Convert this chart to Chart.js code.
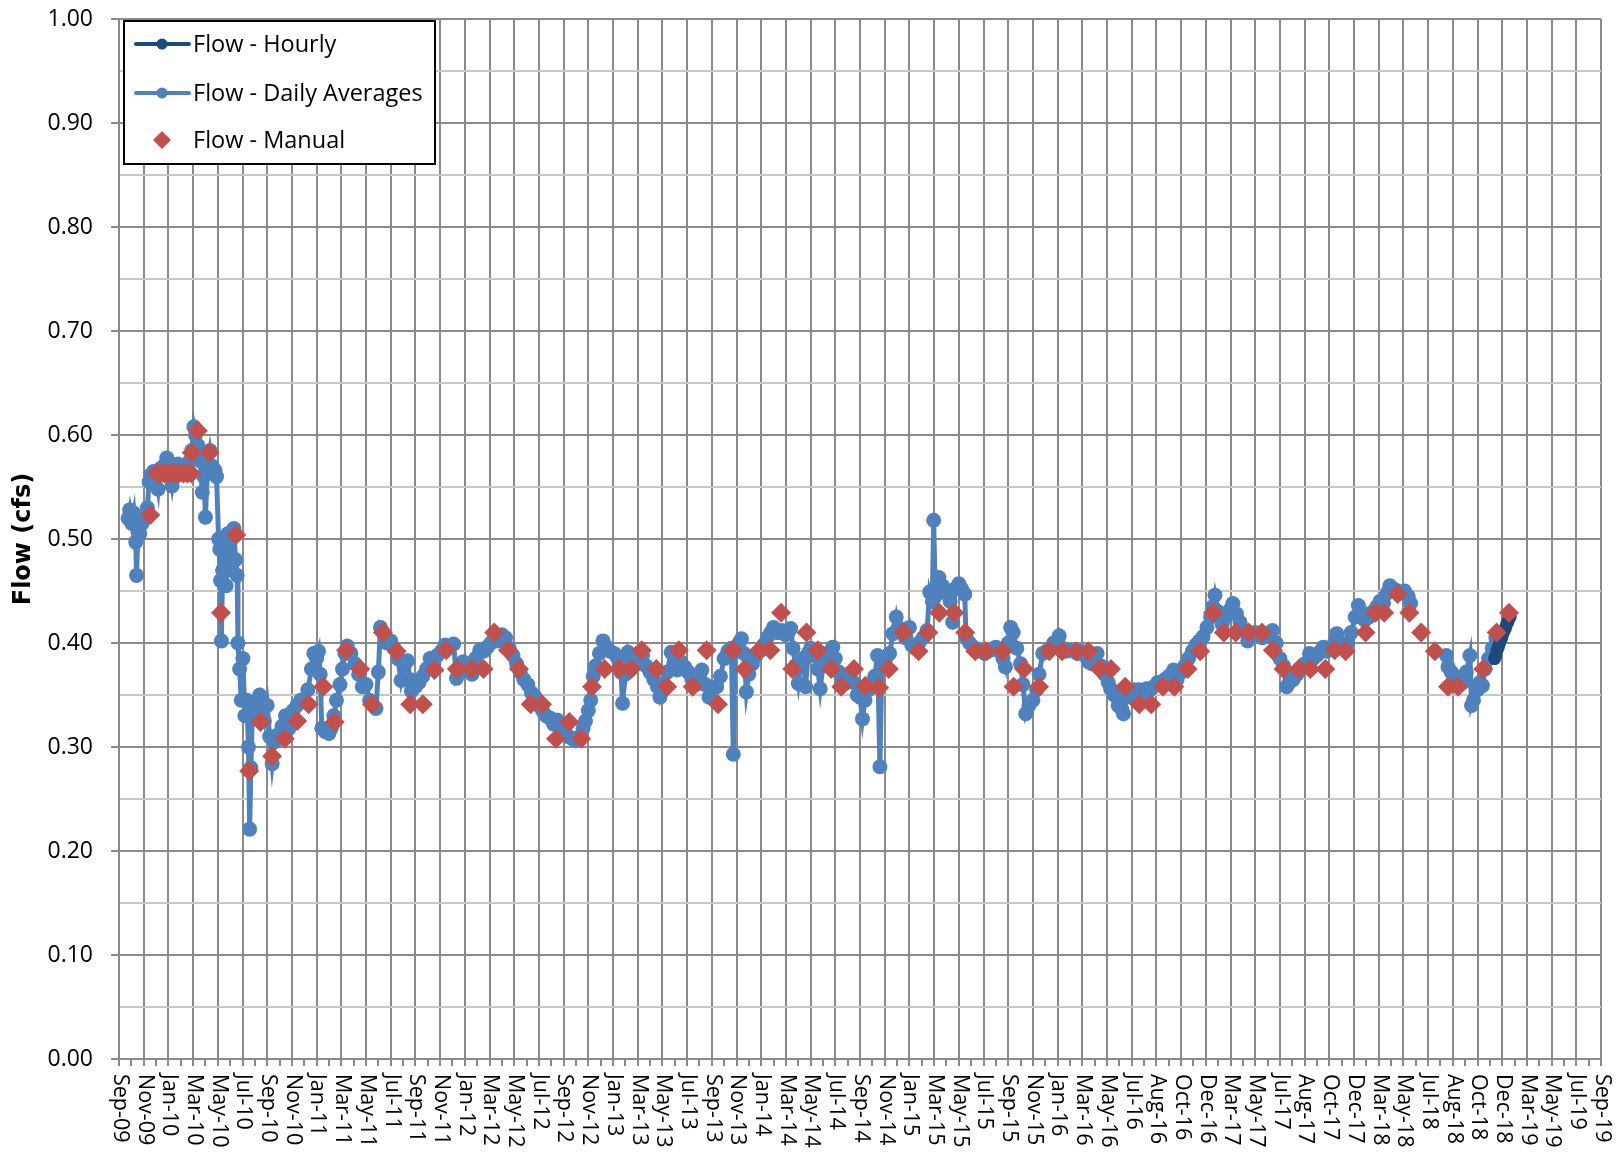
<!DOCTYPE html>
<html><head><meta charset="utf-8">
<script src="https://cdn.jsdelivr.net/npm/chart.js@4.4.1/dist/chart.umd.min.js"></script>
<style>html,body{margin:0;padding:0;background:#fff;}canvas{display:block;}</style>
</head><body>
<canvas id="c" width="1618" height="1159"></canvas>
<script>
// ---------- DATA ----------
const tickLabels = ['Sep-09','Nov-09','Jan-10','Mar-10','May-10','Jul-10','Sep-10','Nov-10','Jan-11','Mar-11','May-11','Jul-11','Sep-11','Nov-11','Jan-12','Mar-12','May-12','Jul-12','Sep-12','Nov-12','Jan-13','Mar-13','May-13','Jul-13','Sep-13','Nov-13','Jan-14','Mar-14','May-14','Jul-14','Sep-14','Nov-14','Jan-15','Mar-15','May-15','Jul-15','Sep-15','Nov-15','Jan-16','Mar-16','May-16','Jul-16','Aug-16','Oct-16','Dec-16','Mar-17','May-17','Jul-17','Aug-17','Oct-17','Dec-17','Mar-18','May-18','Jul-18','Aug-18','Oct-18','Dec-18','Mar-19','May-19','Jul-19','Sep-19'];

const seriesNames = ['Flow - Hourly','Flow - Daily Averages','Flow - Manual'];

const dailyDates = [
'2009-09-23','2009-09-27','2009-10-02','2009-10-07','2009-10-12','2009-10-14','2009-10-18','2009-10-22','2009-10-28','2009-11-04','2009-11-10','2009-11-14','2009-11-19','2009-11-25','2009-12-01','2009-12-06','2009-12-10','2009-12-19','2009-12-28',
'2010-01-04','2010-01-10','2010-01-16','2010-01-25','2010-02-04','2010-02-12','2010-02-21','2010-02-26','2010-03-03','2010-03-07','2010-03-13','2010-03-19','2010-03-24','2010-03-28','2010-04-01','2010-04-06','2010-04-12','2010-04-18','2010-04-24','2010-04-28','2010-05-03','2010-05-06','2010-05-08','2010-05-10','2010-05-13','2010-05-18','2010-05-22','2010-05-26','2010-06-01','2010-06-06','2010-06-10','2010-06-14','2010-06-18','2010-06-20','2010-06-24','2010-06-28','2010-07-02','2010-07-07','2010-07-12','2010-07-16','2010-07-19','2010-07-22','2010-07-26','2010-08-01','2010-08-07','2010-08-13','2010-08-19','2010-08-25','2010-09-01','2010-09-07','2010-09-13','2010-09-19','2010-09-28','2010-10-07','2010-10-16','2010-10-25','2010-11-04','2010-11-13','2010-11-22','2010-12-01','2010-12-10','2010-12-19','2010-12-25',
'2011-01-01','2011-01-06','2011-01-10','2011-01-14','2011-01-22','2011-02-01','2011-02-06','2011-02-12','2011-02-18','2011-02-26','2011-03-04','2011-03-10','2011-03-16','2011-03-25','2011-04-04','2011-04-13','2011-04-22','2011-05-01','2011-05-10','2011-05-19','2011-05-26','2011-06-01','2011-06-06','2011-06-13','2011-06-22','2011-07-01','2011-07-10','2011-07-19','2011-07-27','2011-08-04','2011-08-12','2011-08-18','2011-08-22','2011-09-01','2011-09-10','2011-09-19','2011-09-28','2011-10-07','2011-10-16','2011-10-25','2011-11-04','2011-11-13','2011-11-22','2011-12-04','2011-12-11','2011-12-19','2011-12-28',
'2012-01-07','2012-01-19','2012-01-28','2012-02-07','2012-02-16','2012-02-25','2012-03-04','2012-03-13','2012-03-22','2012-04-01','2012-04-10','2012-04-19','2012-04-28','2012-05-07','2012-05-16','2012-05-25','2012-06-04','2012-06-13','2012-06-22','2012-07-01','2012-07-10','2012-07-19','2012-07-28','2012-08-07','2012-08-16','2012-08-25','2012-09-04','2012-09-13','2012-09-22','2012-10-01','2012-10-10','2012-10-19','2012-10-25','2012-11-01','2012-11-07','2012-11-13','2012-11-19','2012-11-28','2012-12-07','2012-12-16','2012-12-25',
'2013-01-04','2013-01-13','2013-01-21','2013-01-25','2013-02-01','2013-02-07','2013-02-15','2013-02-23','2013-03-04','2013-03-13','2013-03-22','2013-04-01','2013-04-10','2013-04-19','2013-04-25','2013-05-04','2013-05-13','2013-05-23','2013-06-01','2013-06-07','2013-06-16','2013-06-25','2013-07-04','2013-07-13','2013-07-22','2013-08-01','2013-08-07','2013-08-16','2013-08-25','2013-09-04','2013-09-13','2013-09-22','2013-10-01','2013-10-10','2013-10-19','2013-10-24','2013-10-28','2013-11-07','2013-11-13','2013-11-19','2013-11-25','2013-12-01','2013-12-10','2013-12-19','2013-12-28',
'2014-01-07','2014-01-16','2014-01-25','2014-02-01','2014-02-10','2014-02-19','2014-02-28','2014-03-07','2014-03-13','2014-03-19','2014-03-25','2014-04-01','2014-04-07','2014-04-13','2014-04-19','2014-04-25','2014-05-01','2014-05-10','2014-05-19','2014-05-25','2014-06-01','2014-06-10','2014-06-19','2014-06-25','2014-07-01','2014-07-10','2014-07-19','2014-07-28','2014-08-07','2014-08-16','2014-08-25','2014-09-01','2014-09-07','2014-09-13','2014-09-22','2014-10-01','2014-10-07','2014-10-14','2014-10-20','2014-10-25','2014-11-04','2014-11-13','2014-11-21','2014-11-29','2014-12-04','2014-12-13','2014-12-22',
'2015-01-01','2015-01-07','2015-01-16','2015-01-25','2015-02-04','2015-02-13','2015-02-19','2015-02-25','2015-02-28','2015-03-04','2015-03-13','2015-03-22','2015-04-01','2015-04-10','2015-04-16','2015-04-22','2015-05-01','2015-05-08','2015-05-16','2015-05-19','2015-05-28','2015-06-07','2015-06-16','2015-06-25','2015-07-04','2015-07-13','2015-07-22','2015-08-01','2015-08-10','2015-08-19','2015-08-25','2015-09-01','2015-09-07','2015-09-13','2015-09-22','2015-10-01','2015-10-07','2015-10-14','2015-10-22','2015-11-01','2015-11-10','2015-11-16','2015-11-25','2015-12-04','2015-12-13','2015-12-22',
'2016-01-01','2016-01-05','2016-01-13','2016-01-22','2016-02-01','2016-02-10','2016-02-19','2016-02-27','2016-03-07','2016-03-16','2016-03-25','2016-04-07','2016-04-16','2016-04-25','2016-05-04','2016-05-10','2016-05-19','2016-05-29','2016-06-07','2016-06-11','2016-06-19','2016-06-28','2016-07-07','2016-07-19','2016-07-28','2016-08-07','2016-08-16','2016-08-25','2016-09-04','2016-09-13','2016-09-22','2016-10-01','2016-10-13','2016-10-22','2016-11-01','2016-11-10','2016-11-19','2016-11-28','2016-12-07','2016-12-16','2016-12-25',
'2017-01-04','2017-01-13','2017-01-19','2017-01-24','2017-02-01','2017-02-10','2017-02-19','2017-02-28','2017-03-07','2017-03-16','2017-03-25','2017-04-04','2017-04-13','2017-04-22','2017-05-01','2017-05-10','2017-05-19','2017-05-28','2017-06-07','2017-06-13','2017-06-22','2017-07-01','2017-07-10','2017-07-18','2017-07-25','2017-08-04','2017-08-13','2017-08-22','2017-09-01','2017-09-13','2017-09-22','2017-10-01','2017-10-10','2017-10-17','2017-10-25','2017-11-04','2017-11-13','2017-11-19','2017-11-28','2017-12-07','2017-12-16','2017-12-25',
'2018-01-04','2018-01-12','2018-01-19','2018-01-28','2018-02-07','2018-02-16','2018-02-25','2018-03-04','2018-03-13','2018-03-22','2018-03-29','2018-04-07','2018-04-16','2018-04-25','2018-05-04','2018-05-13','2018-05-19','2018-07-01','2018-08-16','2018-08-20','2018-08-28','2018-09-07','2018-09-16','2018-09-25','2018-10-04','2018-10-13','2018-10-17','2018-10-22','2018-11-01','2018-11-07','2018-11-13','2018-11-19','2018-11-28','2018-12-07','2018-12-16','2018-12-22'
];
const dailyFlow = [
0.520,0.528,0.515,0.525,0.497,0.465,0.510,0.505,0.515,0.520,0.530,0.555,0.562,0.565,0.560,0.548,0.567,0.570,0.578,
0.565,0.551,0.568,0.572,0.566,0.570,0.575,0.585,0.608,0.600,0.590,0.575,0.545,0.560,0.521,0.570,0.585,0.570,0.566,0.560,0.500,0.490,0.460,0.402,0.470,0.495,0.455,0.505,0.485,0.470,0.510,0.480,0.465,0.400,0.375,0.345,0.385,0.330,0.345,0.300,0.221,0.280,0.335,0.340,0.345,0.350,0.335,0.325,0.340,0.310,0.284,0.305,0.312,0.320,0.330,0.318,0.335,0.340,0.345,0.345,0.355,0.375,0.390,
0.385,0.392,0.370,0.318,0.315,0.313,0.318,0.330,0.345,0.360,0.375,0.390,0.397,0.390,0.380,0.370,0.358,0.360,0.345,0.340,0.337,0.372,0.415,0.410,0.400,0.402,0.395,0.385,0.364,0.378,0.383,0.365,0.354,0.358,0.362,0.368,0.375,0.385,0.380,0.388,0.392,0.398,0.396,0.399,0.366,0.372,0.382,
0.378,0.370,0.385,0.393,0.392,0.396,0.400,0.405,0.402,0.408,0.405,0.395,0.388,0.380,0.372,0.365,0.360,0.352,0.348,0.340,0.335,0.330,0.328,0.322,0.326,0.318,0.315,0.310,0.308,0.306,0.310,0.318,0.325,0.335,0.345,0.368,0.378,0.390,0.402,0.396,0.392,
0.390,0.385,0.372,0.342,0.370,0.391,0.380,0.385,0.390,0.388,0.378,0.372,0.365,0.358,0.348,0.360,0.372,0.391,0.385,0.374,0.382,0.377,0.372,0.365,0.360,0.368,0.374,0.360,0.348,0.356,0.358,0.368,0.385,0.392,0.395,0.293,0.395,0.400,0.404,0.390,0.353,0.370,0.380,0.388,0.392,
0.398,0.405,0.410,0.415,0.410,0.412,0.408,0.410,0.414,0.395,0.378,0.361,0.380,0.385,0.358,0.390,0.395,0.388,0.375,0.356,0.378,0.385,0.392,0.396,0.385,0.372,0.365,0.362,0.370,0.362,0.350,0.348,0.327,0.345,0.355,0.360,0.368,0.388,0.281,0.380,0.385,0.390,0.409,0.425,0.415,0.412,0.405,
0.415,0.398,0.395,0.400,0.405,0.412,0.449,0.440,0.518,0.445,0.463,0.455,0.448,0.440,0.420,0.452,0.457,0.452,0.447,0.406,0.400,0.396,0.393,0.392,0.390,0.392,0.394,0.396,0.392,0.385,0.377,0.400,0.415,0.410,0.395,0.380,0.360,0.332,0.340,0.345,0.355,0.370,0.390,0.392,0.395,0.400,
0.402,0.407,0.395,0.392,0.393,0.392,0.390,0.392,0.388,0.382,0.380,0.390,0.378,0.370,0.362,0.356,0.350,0.340,0.336,0.332,0.348,0.352,0.355,0.355,0.352,0.356,0.355,0.358,0.362,0.362,0.365,0.368,0.374,0.365,0.372,0.378,0.385,0.392,0.398,0.402,0.406,
0.415,0.425,0.435,0.446,0.430,0.418,0.425,0.432,0.438,0.428,0.420,0.412,0.402,0.408,0.410,0.408,0.405,0.408,0.410,0.412,0.400,0.385,0.378,0.358,0.362,0.365,0.370,0.375,0.380,0.390,0.385,0.388,0.392,0.396,0.392,0.395,0.400,0.409,0.400,0.395,0.400,0.410,
0.425,0.436,0.430,0.422,0.425,0.430,0.435,0.440,0.438,0.448,0.455,0.452,0.450,0.448,0.450,0.445,0.438,null,0.388,0.377,0.372,0.368,0.365,0.362,0.372,0.388,0.340,0.345,0.355,0.362,0.359,0.375,0.385,0.395,0.405,0.410
];

const hourlyDates = ['2018-12-13','2018-12-16','2018-12-19','2018-12-22','2018-12-25','2018-12-28','2018-12-31','2019-01-03','2019-01-06','2019-01-09','2019-01-12','2019-01-15','2019-01-18','2019-01-21'];
const hourlyFlow  = [0.385,0.388,0.393,0.396,0.399,0.403,0.405,0.409,0.412,0.414,0.418,0.420,0.423,0.425];

const manualDates = [
'2009-11-17','2009-12-04','2009-12-13','2009-12-22','2010-01-01','2010-01-10','2010-01-19','2010-01-28','2010-02-07','2010-02-16','2010-02-25','2010-02-26','2010-03-13','2010-04-11','2010-05-09','2010-06-16','2010-07-18','2010-08-15','2010-09-13','2010-10-14','2010-11-14','2010-12-12',
'2011-01-18','2011-02-14','2011-03-13','2011-04-17','2011-05-16','2011-06-12','2011-07-16','2011-08-19','2011-09-19','2011-10-18','2011-11-16','2011-12-12',
'2012-01-17','2012-02-16','2012-03-13','2012-04-16','2012-05-13','2012-06-11','2012-07-09','2012-08-13','2012-09-15','2012-10-14','2012-11-10','2012-12-11',
'2013-01-17','2013-02-15','2013-03-11','2013-04-16','2013-05-13','2013-06-11','2013-07-15','2013-08-19','2013-09-16','2013-10-23','2013-11-21','2013-12-27',
'2014-01-24','2014-02-18','2014-03-17','2014-04-21','2014-05-19','2014-06-21','2014-07-16','2014-08-17','2014-09-14','2014-10-18','2014-11-11','2014-12-16',
'2015-01-24','2015-02-16','2015-03-14','2015-04-20','2015-05-17','2015-06-11','2015-07-07','2015-08-18','2015-09-14','2015-10-10','2015-11-16','2015-12-11',
'2016-01-12','2016-02-16','2016-03-16','2016-04-13','2016-05-11','2016-06-15','2016-07-20','2016-08-19','2016-09-17','2016-10-15','2016-11-17','2016-12-18',
'2017-01-19','2017-02-14','2017-03-14','2017-04-15','2017-05-18','2017-06-14','2017-07-10','2017-08-17','2017-09-15','2017-10-22','2017-11-14','2017-12-11',
'2018-01-30','2018-02-22','2018-03-15','2018-04-17','2018-05-16','2018-06-14','2018-07-18','2018-08-20','2018-09-14','2018-11-15','2018-12-18','2019-01-18'
];
const manualFlow = [
0.523,0.563,0.563,0.563,0.563,0.563,0.563,0.563,0.563,0.563,0.563,0.583,0.604,0.583,0.429,0.504,0.277,0.324,0.291,0.308,0.325,0.341,
0.358,0.324,0.393,0.375,0.341,0.410,0.392,0.341,0.341,0.374,0.393,0.375,
0.375,0.375,0.410,0.393,0.375,0.341,0.341,0.308,0.324,0.308,0.358,0.375,
0.375,0.375,0.393,0.375,0.358,0.393,0.358,0.393,0.341,0.393,0.375,0.393,
0.393,0.429,0.375,0.410,0.393,0.375,0.358,0.375,0.359,0.357,0.375,0.410,
0.392,0.410,0.429,0.429,0.410,0.392,0.392,0.392,0.358,0.375,0.358,0.392,
0.392,0.392,0.392,0.375,0.375,0.358,0.341,0.341,0.358,0.358,0.375,0.392,
0.429,0.410,0.410,0.410,0.410,0.393,0.375,0.375,0.375,0.375,0.393,0.392,
0.410,0.429,0.429,0.447,0.429,0.410,0.392,0.358,0.358,0.375,0.410,0.429
];

// ---------- HELPERS ----------
// position on the time axis, in months since 1 Sep 2009
function toMonths(s) {
  const p = s.split('-').map(Number);
  const dim = new Date(Date.UTC(p[0], p[1], 0)).getUTCDate();
  return (p[0] - 2009) * 12 + (p[1] - 9) + (p[2] - 1) / dim;
}
function pts(dates, vals) { return dates.map((d, i) => ({ x: toMonths(d), y: vals[i] })); }

const COL_HOURLY = '#1F497D', COL_DAILY = '#4F81BD', COL_MANUAL = '#C0504D';
const GRID_MAJOR = '#8a8a8a', GRID_MINOR = '#c8c8c8';
const isMajorY = v => Math.round(v * 100) % 10 === 0;

// x tick labels drawn top-to-bottom (Excel style) + legend box
const decor = {
  id: 'decor',
  afterDraw(chart) {
    const ctx = chart.ctx, xs = chart.scales.x, area = chart.chartArea;
    ctx.save();
    ctx.fillStyle = '#000';
    ctx.font = '21.5px "Open Sans"';
    ctx.textAlign = 'left';
    ctx.textBaseline = 'middle';
    tickLabels.forEach((lab, i) => {
      const x = xs.getPixelForValue(i * 2);
      ctx.save();
      ctx.translate(x + 1, area.bottom + 15);
      ctx.rotate(Math.PI / 2);
      ctx.fillText(lab, 0, 0);
      ctx.restore();
    });
    // legend
    const lx = 124, ly = 21, lw = 311, lh = 143;
    ctx.fillStyle = '#fff';
    ctx.fillRect(lx, ly, lw, lh);
    ctx.strokeStyle = '#000';
    ctx.lineWidth = 2;
    ctx.strokeRect(lx, ly, lw, lh);
    const rows = [
      { name: seriesNames[0], color: COL_HOURLY, kind: 'line', y: 44 },
      { name: seriesNames[1], color: COL_DAILY, kind: 'line', y: 93 },
      { name: seriesNames[2], color: COL_MANUAL, kind: 'diamond', y: 140 }
    ];
    rows.forEach(r => {
      ctx.fillStyle = r.color;
      ctx.strokeStyle = r.color;
      if (r.kind === 'line') {
        ctx.lineWidth = 4;
        ctx.lineCap = 'round';
        ctx.beginPath(); ctx.moveTo(136, r.y); ctx.lineTo(189, r.y); ctx.stroke();
        ctx.beginPath(); ctx.arc(162, r.y, 5.5, 0, Math.PI * 2); ctx.fill();
      } else {
        ctx.beginPath();
        ctx.moveTo(162, r.y - 9); ctx.lineTo(171, r.y); ctx.lineTo(162, r.y + 9); ctx.lineTo(153, r.y);
        ctx.closePath(); ctx.fill();
      }
      ctx.fillStyle = '#000';
      ctx.font = '23.5px "Open Sans"';
      ctx.textBaseline = 'middle';
      ctx.fillText(r.name, 193, r.y + 1);
    });
    ctx.restore();
  }
};

Chart.defaults.font.family = '"Open Sans"';
Chart.defaults.color = '#000';

new Chart(document.getElementById('c'), {
  type: 'line',
  data: {
    datasets: [
      { label: seriesNames[2], data: pts(manualDates, manualFlow), showLine: false,
        pointStyle: 'rectRot', pointRadius: 10, pointBackgroundColor: COL_MANUAL,
        pointBorderColor: COL_MANUAL, pointBorderWidth: 0, borderColor: COL_MANUAL, order: 0 },
      { label: seriesNames[0], data: pts(hourlyDates, hourlyFlow), borderColor: COL_HOURLY,
        backgroundColor: COL_HOURLY, borderWidth: 5, pointRadius: 6.5, pointBackgroundColor: COL_HOURLY,
        pointBorderColor: COL_HOURLY, pointBorderWidth: 0, tension: 0, order: 1 },
      { label: seriesNames[1], data: pts(dailyDates, dailyFlow), borderColor: COL_DAILY,
        backgroundColor: COL_DAILY, borderWidth: 5, pointRadius: 7.5, pointBackgroundColor: COL_DAILY,
        pointBorderColor: COL_DAILY, pointBorderWidth: 0, tension: 0, spanGaps: false, order: 2 }
    ]
  },
  options: {
    responsive: false,
    animation: false,
    devicePixelRatio: 1,
    events: [],
    layout: { padding: { top: 19, right: 17, left: 0, bottom: 0 } },
    plugins: { legend: { display: false }, tooltip: { enabled: false } },
    scales: {
      x: {
        type: 'linear', min: 0, max: 120,
        afterBuildTicks: s => { s.ticks = Array.from({ length: 121 }, (_, i) => ({ value: i })); },
        afterFit: s => { s.height = 100; s.paddingLeft = 0; s.paddingRight = 0; },
        ticks: { display: false },
        grid: {
          color: c => (c.tick && c.tick.value % 2 === 0) ? GRID_MAJOR : 'rgba(0,0,0,0)',
          tickColor: GRID_MAJOR, lineWidth: 2, tickLength: 7, drawTicks: true
        },
        border: { display: true, color: GRID_MAJOR, width: 2 }
      },
      y: {
        min: 0, max: 1,
        afterFit: s => { s.width = 119; s.paddingTop = 0; s.paddingBottom = 0; },
        ticks: {
          stepSize: 0.05, padding: 18, font: { size: 23, family: '"Open Sans"' }, color: '#000',
          autoSkip: false,
          callback: v => isMajorY(v) ? v.toFixed(2) : ''
        },
        grid: {
          color: c => (c.tick && isMajorY(c.tick.value)) ? GRID_MAJOR : GRID_MINOR,
          tickColor: c => (c.tick && isMajorY(c.tick.value)) ? GRID_MAJOR : 'rgba(0,0,0,0)',
          lineWidth: 2, tickLength: 8
        },
        border: { display: true, color: GRID_MAJOR, width: 2 },
        title: { display: true, text: 'Flow (cfs)', color: '#000',
          font: { family: '"DejaVu Sans"', weight: 'bold', size: 24 }, padding: { top: 9, bottom: 0 } }
      }
    }
  },
  plugins: [decor]
});
</script>
</body></html>
